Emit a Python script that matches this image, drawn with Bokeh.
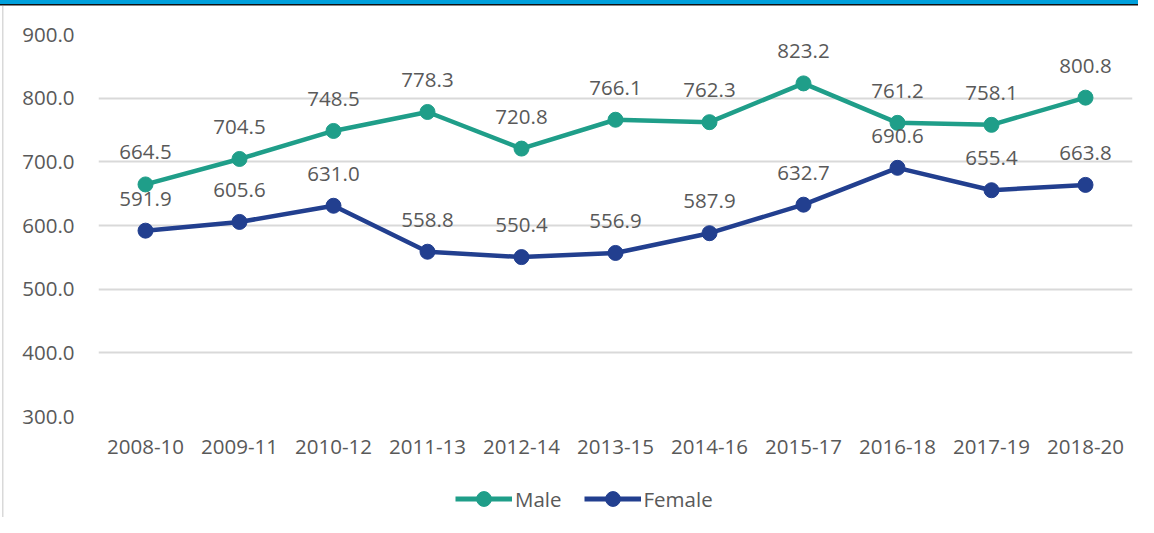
from bokeh.plotting import figure
from bokeh.layouts import column
from bokeh.models import (ColumnDataSource, FactorRange, Range1d, LabelSet, Legend,
                          LegendItem, SingleIntervalTicker, NumeralTickFormatter)
from bokeh.core.properties import value
from bokeh.embed import file_html
from bokeh.resources import INLINE

periods = ["2008-10", "2009-11", "2010-12", "2011-13", "2012-14", "2013-15",
           "2014-16", "2015-17", "2016-18", "2017-19", "2018-20"]
male = [664.5, 704.5, 748.5, 778.3, 720.8, 766.1, 762.3, 823.2, 761.2, 758.1, 800.8]
female = [591.9, 605.6, 631.0, 558.8, 550.4, 556.9, 587.9, 632.7, 690.6, 655.4, 663.8]
series_names = ["Male", "Female"]

MALE_C = "#1F9E89"
FEMALE_C = "#223F8F"
TEXT_C = "#595959"
FONT = "Open Sans"
FS = "20.5px"
W = 1138

src = ColumnDataSource(dict(
    x=periods, male=male, female=female,
    male_lbl=[f"{v:.1f}" for v in male],
    female_lbl=[f"{v:.1f}" for v in female],
))

p = figure(x_range=FactorRange(*periods, range_padding=0), y_range=Range1d(300, 900),
           width=W, height=470, output_backend="svg", toolbar_location=None,
           min_border_left=98, min_border_right=6, min_border_top=34, min_border_bottom=54)
p.outline_line_color = None
p.background_fill_color = "white"
p.border_fill_alpha = 0

# axes
p.yaxis.ticker = SingleIntervalTicker(interval=100)
p.yaxis.formatter = NumeralTickFormatter(format="0.0")
for ax in (p.xaxis[0], p.yaxis[0]):
    ax.axis_line_color = None
    ax.major_tick_line_color = None
    ax.minor_tick_line_color = None
    ax.major_label_text_font = FONT
    ax.major_label_text_font_size = FS
    ax.major_label_text_color = TEXT_C
p.yaxis.major_label_standoff = 18
p.xaxis.major_label_standoff = 17
p.xgrid.grid_line_color = None
p.ygrid.grid_line_color = "#D9D9D9"
p.ygrid.grid_line_width = 2

# series
ml = p.line("x", "male", source=src, color=MALE_C, line_width=4.5)
ms = p.scatter("x", "male", source=src, color=MALE_C, size=15)
fl = p.line("x", "female", source=src, color=FEMALE_C, line_width=4.5)
fs = p.scatter("x", "female", source=src, color=FEMALE_C, size=15)

for col in ("male", "female"):
    p.add_layout(LabelSet(x="x", y=col, text=col + "_lbl", source=src, y_offset=32,
                          text_align="center", text_baseline="middle",
                          text_font=value(FONT), text_font_size=value(FS),
                          text_color=TEXT_C))

# legend strip (separate small figure so the legend is not clipped)
lg = figure(width=W, height=47, output_backend="svg", toolbar_location=None,
            x_range=Range1d(0, 1), y_range=Range1d(0, 1),
            x_axis_location=None, y_axis_location=None,
            min_border_left=0, min_border_right=0, min_border_top=0, min_border_bottom=0)
lg.grid.visible = False
lg.outline_line_color = None
lg.background_fill_alpha = 0
lg.border_fill_alpha = 0
nan = float("nan")
dummy = ColumnDataSource(dict(x=[nan], y=[nan]))
items = []
for name, c in zip(series_names, (MALE_C, FEMALE_C)):
    r1 = lg.line("x", "y", source=dummy, color=c, line_width=5)
    r2 = lg.scatter("x", "y", source=dummy, color=c, size=15)
    items.append(LegendItem(label=name, renderers=[r1, r2]))
legend = Legend(items=items, orientation="horizontal", location=(357, 0),
                glyph_width=57, glyph_height=37, label_standoff=3, spacing=22,
                padding=0, margin=0, border_line_color=None, background_fill_alpha=0,
                label_text_font=FONT, label_text_font_size=FS, label_text_color=TEXT_C)
lg.add_layout(legend, "center")

layout = column(p, lg, spacing=0)
layout.styles = {
    "background-color": "white",
    "background-image": "linear-gradient(#00A0DC,#00A0DC), linear-gradient(#111111,#111111), "
                        "linear-gradient(#111111,#111111), linear-gradient(#D9D9D9,#D9D9D9)",
    "background-size": "100% 4px, 100% 1.5px, 1.5px 5px, 1.5px 100%",
    "background-position": "0 0, 0 4px, 0 0, 2px 5.5px",
    "background-repeat": "no-repeat",
}

open("out.html", "w").write(file_html(layout, INLINE))
